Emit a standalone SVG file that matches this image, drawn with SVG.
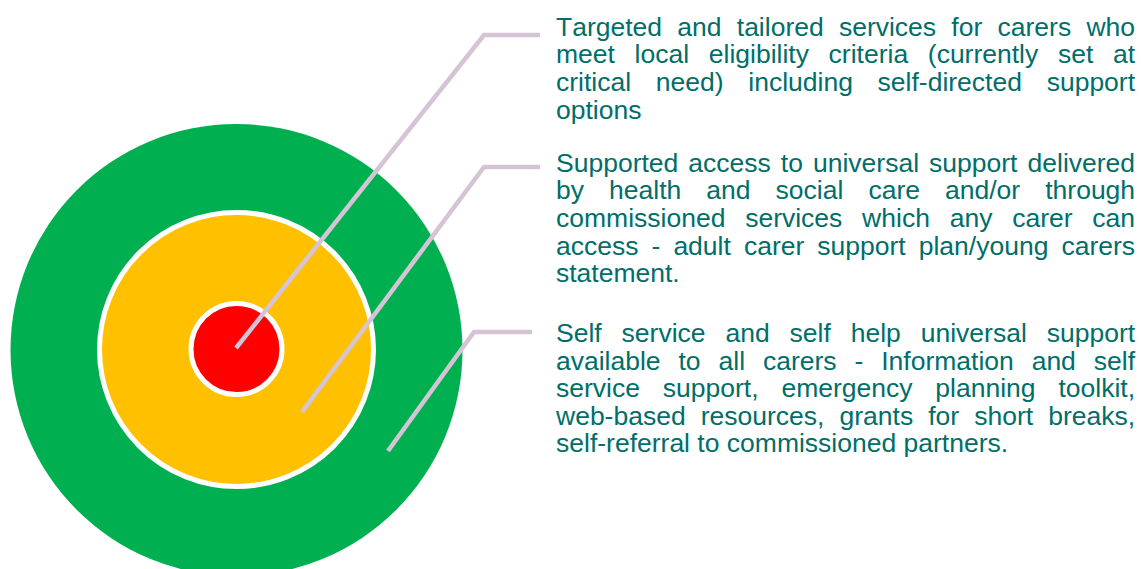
<svg xmlns="http://www.w3.org/2000/svg" width="1141" height="569" viewBox="0 0 1141 569">
  <style>
    .ring { stroke: #FFFFFF; stroke-width: 5; }
    .lbl { font-family: "Liberation Sans", Arial, sans-serif; font-size: 26.5px; fill: #006E69; font-kerning: none; }
    .conn { fill: none; stroke: #D5C3D6; stroke-width: 4.5; stroke-linejoin: miter; stroke-linecap: butt; }
  </style>
  <rect width="1141" height="569" fill="#FFFFFF"/>
  <g id="ring-outer">
    <circle cx="236.5" cy="350" r="226" fill="#00B050"/>
  </g>
  <g id="ring-middle">
    <circle class="ring" cx="236.5" cy="349.5" r="137" fill="#FFC000"/>
  </g>
  <g id="ring-inner">
    <circle class="ring" cx="236.5" cy="349" r="45.5" fill="#FF0000"/>
  </g>
  <g id="connectors">
    <polyline class="conn" points="236,348 484,35 540,35"/>
    <polyline class="conn" points="302,412 484,167 540,167"/>
    <polyline class="conn" points="388,451 474,332 532,332"/>
  </g>
  <g id="label-targeted">
    <text class="lbl" x="556" y="35.7" word-spacing="7.88">Targeted and tailored services for carers who</text>
    <text class="lbl" x="556" y="63.3" word-spacing="12.32">meet local eligibility criteria (currently set at</text>
    <text class="lbl" x="556" y="90.9" word-spacing="17.35">critical need) including self-directed support</text>
    <text class="lbl" x="556" y="118.5">options</text>
  </g>
  <g id="label-supported">
    <text class="lbl" x="556" y="171.7" word-spacing="2.68">Supported access to universal support delivered</text>
    <text class="lbl" x="556" y="199.3" word-spacing="17.7">by health and social care and/or through</text>
    <text class="lbl" x="556" y="226.9" word-spacing="12.42">commissioned services which any carer can</text>
    <text class="lbl" x="556" y="254.5" word-spacing="5.68">access - adult carer support plan/young carers</text>
    <text class="lbl" x="556" y="282.1">statement.</text>
  </g>
  <g id="label-self">
    <text class="lbl" x="556" y="342" word-spacing="12.55">Self service and self help universal support</text>
    <text class="lbl" x="556" y="369.6" word-spacing="10.54">available to all carers - Information and self</text>
    <text class="lbl" x="556" y="397.2" word-spacing="15.5">service support, emergency planning toolkit,</text>
    <text class="lbl" x="556" y="424.8" word-spacing="7.7">web-based resources, grants for short breaks,</text>
    <text class="lbl" x="556" y="452.4">self-referral to commissioned partners.</text>
  </g>
</svg>
